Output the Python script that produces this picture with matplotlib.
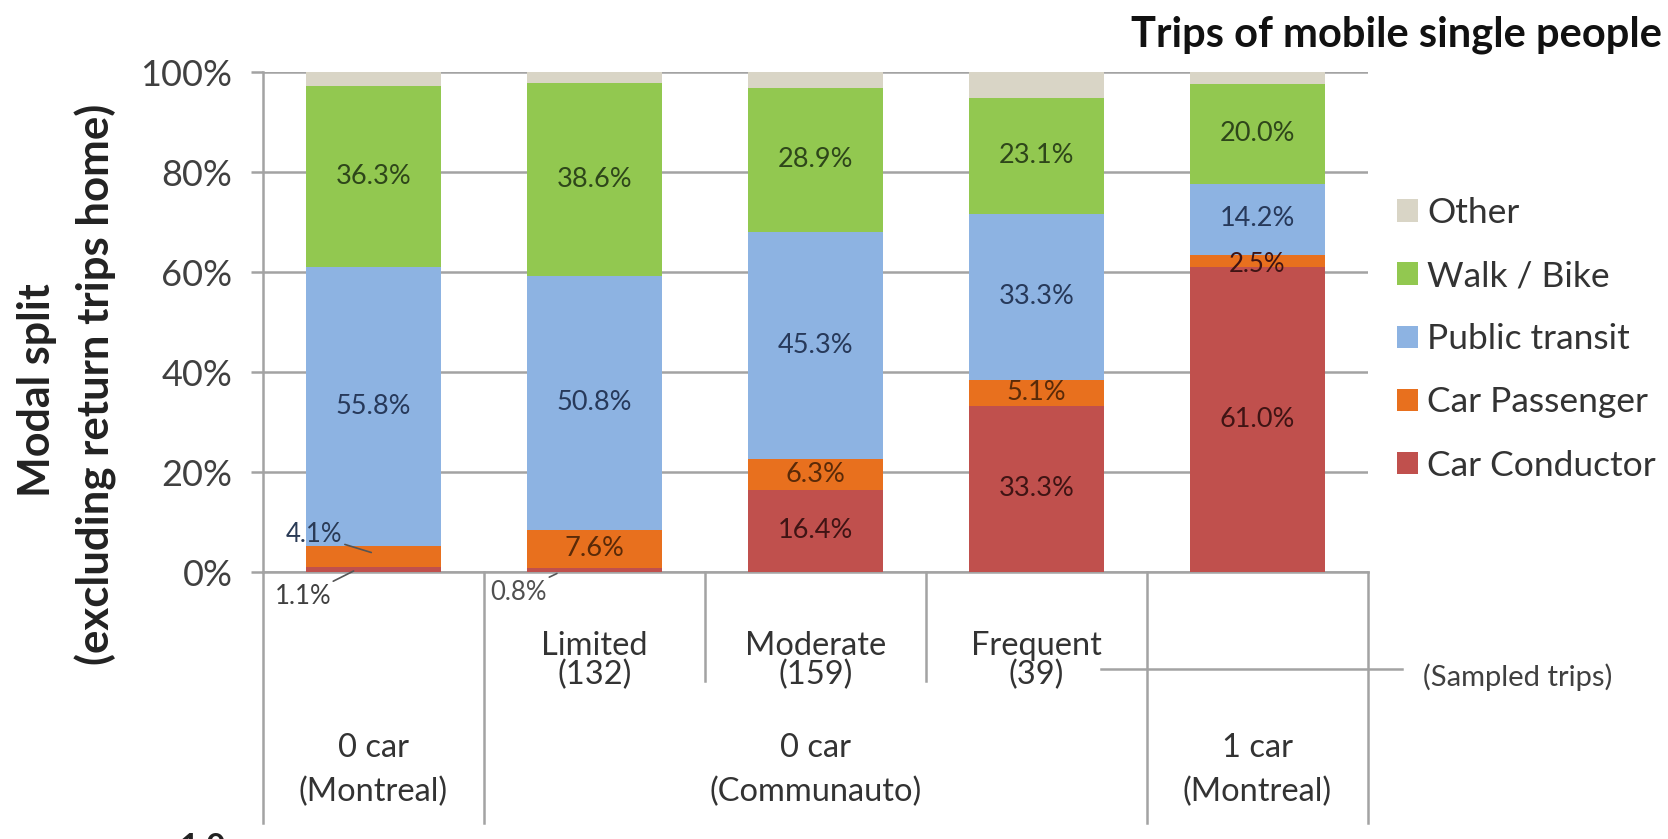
import numpy as np
import matplotlib.pyplot as plt
from matplotlib.transforms import Bbox, TransformedBbox

plt.rcParams['font.family'] = ['Lato', 'DejaVu Sans']

# data (percent of trips)
usage = ['', 'Limited\n(132)', 'Moderate\n(159)', 'Frequent\n(39)', '']
groups = ['0 car\n(Montreal)', '0 car\n(Communauto)', '1 car\n(Montreal)']
group_pos = [0, 2, 4]
modes = ['Car Conductor', 'Car Passenger', 'Public transit', 'Walk / Bike', 'Other']
conductor = [1.1, 0.8, 16.4, 33.3, 61.0]
passenger = [4.1, 7.6, 6.3, 5.1, 2.5]
transit = [55.8, 50.8, 45.3, 33.3, 14.2]
walk_bike = [36.3, 38.6, 28.9, 23.1, 20.0]
other = [2.7, 2.2, 3.1, 5.2, 2.3]

colors = ['#c0504d', '#e8701e', '#8db3e2', '#92c850', '#d9d5c6']
txtcols = ['#3f1414', '#5a2a08', '#27395a', '#2e461a', '#333333']
grey = '#a3a3a3'

fig = plt.figure(figsize=(16.68, 8.39), dpi=100)
ax = fig.add_axes([263/1668, 267/839, 1105/1668, 500/839])

x = np.arange(len(conductor))
series = [conductor, passenger, transit, walk_bike, other]
bottom = np.zeros(len(x))
for vals, col, name, tc in zip(series, colors, modes, txtcols):
    vals = np.array(vals)
    ax.bar(x, vals, width=0.61, bottom=bottom, color=col, label=name, zorder=3)
    if name != 'Other':
        for i, v in enumerate(vals):
            # small segments get their own labels below
            if (name == 'Car Conductor' and i < 2) or (name == 'Car Passenger' and i in (0, 4)):
                continue
            ax.text(x[i], bottom[i] + v/2, f'{v:.1f}%', ha='center', va='center',
                    fontsize=19.5, color=tc, zorder=4)
    bottom += vals

lead = dict(arrowstyle='-', color='#555555', lw=1.2, shrinkA=0, shrinkB=0)
ax.annotate('4.1%', xy=(-0.01, 3.9), xytext=(-0.27, 7.4), ha='center', va='center',
            fontsize=18.5, color='#2a3a55', arrowprops=lead, annotation_clip=False)
ax.annotate('1.1%', xy=(-0.09, 0.2), xytext=(-0.32, -4.9), ha='center', va='center',
            fontsize=18.5, color='#404040', arrowprops=lead, annotation_clip=False)
ax.annotate('0.8%', xy=(0.83, -0.3), xytext=(0.655, -4.0), ha='center', va='center',
            fontsize=18.5, color='#505050', arrowprops=lead, annotation_clip=False)
ax.text(4, 61.6, '2.5%', ha='center', va='center', fontsize=18.5, color='#3f1414', zorder=4)

ax.set_xlim(-0.5, 4.5)
ax.set_ylim(0, 100)
ax.set_yticks(np.arange(0, 101, 20))
ax.set_yticklabels([f'{t}%' for t in range(0, 101, 20)], fontsize=26, color='#404040')
ax.tick_params(axis='y', length=9, width=1.8, color=grey, pad=13)
ax.set_xticks([])
ax.grid(axis='y', color=grey, lw=1.8, zorder=1)
for s in ['top', 'right']:
    ax.spines[s].set_visible(False)
ax.spines['left'].set_color(grey)
ax.spines['left'].set_linewidth(1.8)
ax.spines['bottom'].set_color(grey)
ax.spines['bottom'].set_linewidth(1.8)

# multi-level category axis below the plot
xt = ax.get_xaxis_transform()
for b in [-0.5, 0.5, 3.5, 4.5]:
    ax.plot([b, b], [0, -0.502], transform=xt, color=grey, lw=1.8, clip_on=False)
for b in [1.5, 2.5]:
    ax.plot([b, b], [0, -0.218], transform=xt, color=grey, lw=1.8, clip_on=False)

clip = TransformedBbox(Bbox([[-0.5, -0.233], [4.5, 0]]), xt)
for i, lab in enumerate(usage):
    if lab:
        t = ax.text(i, -0.178, lab, transform=xt, ha='center', va='center',
                    fontsize=23.5, color='#333333', linespacing=0.95, clip_on=True)
        t.set_clip_box(clip)
for p, lab in zip(group_pos, groups):
    ax.text(p, -0.396, lab, transform=xt, ha='center', va='center',
            fontsize=23.5, color='#333333', linespacing=1.55)

ax.plot([3.29, 4.654], [-0.194, -0.194], transform=xt, color=grey, lw=1.8, clip_on=False)
ax.text(4.749, -0.21, '(Sampled trips)', transform=xt, ha='left', va='center',
        fontsize=21, color='#404040')

# y label, two centred lines
fig.text(37/1668, 1 - 390/839, 'Modal split', rotation=90, ha='center', va='center',
         fontsize=31, fontweight='bold', color='#222222')
fig.text(96/1668, 1 - 384/839, '(excluding return trips home)', rotation=90,
         ha='center', va='center', fontsize=31.5, fontweight='bold', color='#222222')

fig.text(1131/1668, 1 - 35/839, 'Trips of mobile single people', ha='left', va='center',
         fontsize=30, fontweight='bold', color='#111111')
fig.text(180/1668, 1 - 833/839, '1.0', ha='left', va='top', fontsize=24,
         fontweight='bold', color='#222222')

handles, labels = ax.get_legend_handles_labels()
ax.legend(handles[::-1], labels[::-1], loc='upper left', bbox_to_anchor=(1397/1668, 1 - 197/839),
          bbox_transform=fig.transFigure, frameon=False, fontsize=25.5, handlelength=0.6,
          handleheight=0.6, handletextpad=0.25, labelspacing=0.88, borderpad=0, borderaxespad=0,
          labelcolor='#333333')

fig.savefig('out.png', dpi=100)
